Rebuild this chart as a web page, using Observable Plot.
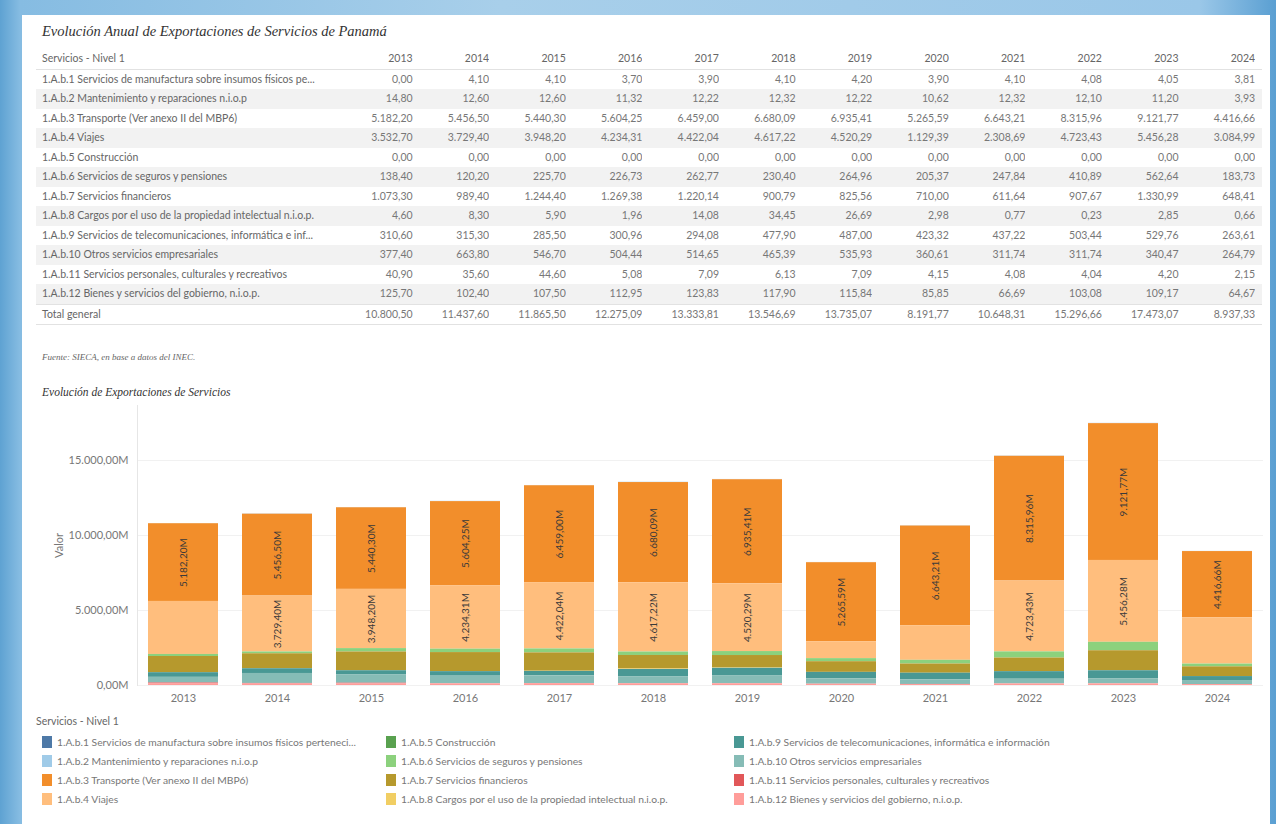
<!DOCTYPE html>
<html><head><meta charset="utf-8">
<script src="https://cdn.jsdelivr.net/npm/d3@7"></script>
<script src="https://cdn.jsdelivr.net/npm/@observablehq/plot@0.6"></script>
<style>
html,body{margin:0;padding:0;width:1276px;height:824px;overflow:hidden;}
body{position:relative;background:linear-gradient(90deg,#5ea2d2 0,#86bce2 20px,#a8cfea 500px,#9ac7e8 1200px,#5a9fd2 1276px);font-family:Lato,"Noto Sans",sans-serif;}
#panel{position:absolute;left:22px;top:15px;width:1248px;height:809px;background:#fff;}
.ttl{position:absolute;font-family:"Liberation Serif","DejaVu Serif",serif;font-style:italic;color:#333;white-space:nowrap;}
#tbl{position:absolute;left:36px;top:49px;border-collapse:collapse;table-layout:fixed;font-size:10.5px;color:#777;}
#tbl td{height:19.5px;padding:0;white-space:nowrap;overflow:hidden;line-height:19.5px;}
#tbl td.lab{padding-left:6px;color:#666;}
#tbl td.num{text-align:right;}
#tbl tr.band td{background:#f2f2f2;}
#tbl tr.head td{border-bottom:1px solid #e2e2e2;color:#666;}
#tbl tr.tot td{border-top:1px solid #e2e2e2;border-bottom:1px solid #e2e2e2;}
#chart{position:absolute;left:0;top:405px;}
#legtitle{position:absolute;left:36px;top:715px;font-size:10.5px;color:#666;}
.leg{position:absolute;font-size:10.3px;color:#777;white-space:nowrap;display:flex;align-items:center;height:19px;}
.leg span.sw{display:inline-block;width:10px;height:12px;margin-right:5px;}
</style>
</head><body>
<div id="panel"></div>
<div class="ttl" id="t1" style="left:42px;top:23px;font-size:14.5px;">Evolución Anual de Exportaciones de Servicios de Panamá</div>
<table id="tbl"></table>
<div class="ttl" style="left:42px;top:352px;font-size:9px;color:#666;">Fuente: SIECA, en base a datos del INEC.</div>
<div class="ttl" style="left:42px;top:386px;font-size:11.5px;">Evolución de Exportaciones de Servicios</div>
<div id="chart"></div>
<div id="legtitle">Servicios - Nivel 1</div>
<div id="legend"></div>
<script>
const years = ["2013","2014","2015","2016","2017","2018","2019","2020","2021","2022","2023","2024"];
const categories = [
  "1.A.b.1 Servicios de manufactura sobre insumos físicos pertenecientes a otros",
  "1.A.b.2 Mantenimiento y reparaciones n.i.o.p",
  "1.A.b.3 Transporte (Ver anexo II del MBP6)",
  "1.A.b.4 Viajes",
  "1.A.b.5 Construcción",
  "1.A.b.6 Servicios de seguros y pensiones",
  "1.A.b.7 Servicios financieros",
  "1.A.b.8 Cargos por el uso de la propiedad intelectual n.i.o.p.",
  "1.A.b.9 Servicios de telecomunicaciones, informática e información",
  "1.A.b.10 Otros servicios empresariales",
  "1.A.b.11 Servicios personales, culturales y recreativos",
  "1.A.b.12 Bienes y servicios del gobierno, n.i.o.p."
];
const tableLabels = [
  "1.A.b.1 Servicios de manufactura sobre insumos físicos pe...",
  "1.A.b.2 Mantenimiento y reparaciones n.i.o.p",
  "1.A.b.3 Transporte (Ver anexo II del MBP6)",
  "1.A.b.4 Viajes",
  "1.A.b.5 Construcción",
  "1.A.b.6 Servicios de seguros y pensiones",
  "1.A.b.7 Servicios financieros",
  "1.A.b.8 Cargos por el uso de la propiedad intelectual n.i.o.p.",
  "1.A.b.9 Servicios de telecomunicaciones, informática e inf...",
  "1.A.b.10 Otros servicios empresariales",
  "1.A.b.11 Servicios personales, culturales y recreativos",
  "1.A.b.12 Bienes y servicios del gobierno, n.i.o.p."
];
const legendLabels = [
  "1.A.b.1 Servicios de manufactura sobre insumos físicos perteneci...",
  "1.A.b.2 Mantenimiento y reparaciones n.i.o.p",
  "1.A.b.3 Transporte (Ver anexo II del MBP6)",
  "1.A.b.4 Viajes",
  "1.A.b.5 Construcción",
  "1.A.b.6 Servicios de seguros y pensiones",
  "1.A.b.7 Servicios financieros",
  "1.A.b.8 Cargos por el uso de la propiedad intelectual n.i.o.p.",
  "1.A.b.9 Servicios de telecomunicaciones, informática e información",
  "1.A.b.10 Otros servicios empresariales",
  "1.A.b.11 Servicios personales, culturales y recreativos",
  "1.A.b.12 Bienes y servicios del gobierno, n.i.o.p."
];
const colors = ["#4e79a7","#a0cbe8","#f28e2b","#ffbe7d","#59a14f","#8cd17d","#b6992d","#f1ce63","#499894","#86bcb6","#e15759","#ff9d9a"];

const s1  = [0.00, 4.10, 4.10, 3.70, 3.90, 4.10, 4.20, 3.90, 4.10, 4.08, 4.05, 3.81];
const s2  = [14.80, 12.60, 12.60, 11.32, 12.22, 12.32, 12.22, 10.62, 12.32, 12.10, 11.20, 3.93];
const s3  = [5182.20, 5456.50, 5440.30, 5604.25, 6459.00, 6680.09, 6935.41, 5265.59, 6643.21, 8315.96, 9121.77, 4416.66];
const s4  = [3532.70, 3729.40, 3948.20, 4234.31, 4422.04, 4617.22, 4520.29, 1129.39, 2308.69, 4723.43, 5456.28, 3084.99];
const s5  = [0, 0, 0, 0, 0, 0, 0, 0, 0, 0, 0, 0];
const s6  = [138.40, 120.20, 225.70, 226.73, 262.77, 230.40, 264.96, 205.37, 247.84, 410.89, 562.64, 183.73];
const s7  = [1073.30, 989.40, 1244.40, 1269.38, 1220.14, 900.79, 825.56, 710.00, 611.64, 907.67, 1330.99, 648.41];
const s8  = [4.60, 8.30, 5.90, 1.96, 14.08, 34.45, 26.69, 2.98, 0.77, 0.23, 2.85, 0.66];
const s9  = [310.60, 315.30, 285.50, 300.96, 294.08, 477.90, 487.00, 423.32, 437.22, 503.44, 529.76, 263.61];
const s10 = [377.40, 663.80, 546.70, 504.44, 514.65, 465.39, 535.93, 360.61, 311.74, 311.74, 340.47, 264.79];
const s11 = [40.90, 35.60, 44.60, 5.08, 7.09, 6.13, 7.09, 4.15, 4.08, 4.04, 4.20, 2.15];
const s12 = [125.70, 102.40, 107.50, 112.95, 123.83, 117.90, 115.84, 85.85, 66.69, 103.08, 109.17, 64.67];
const totals = [10800.50, 11437.60, 11865.50, 12275.09, 13333.81, 13546.69, 13735.07, 8191.77, 10648.31, 15296.66, 17473.07, 8937.33];
const viajesLabelYears = ["2014","2015","2016","2017","2018","2019","2022","2023"];
const yTicks = [0, 5000, 10000, 15000];

const series = [s1,s2,s3,s4,s5,s6,s7,s8,s9,s10,s11,s12];
const locale = d3.formatLocale({decimal: ",", thousands: ".", grouping: [3], currency: ["", ""]});
const fmt2 = locale.format(",.2f");
const fmtM = v => fmt2(v) + "M";

// table
const tbl = document.getElementById("tbl");
const cg = document.createElement("colgroup");
cg.innerHTML = `<col style="width:300px">` + years.map(() => `<col style="width:76.6px">`).join("") + `<col style="width:7px">`;
tbl.appendChild(cg);
function addRow(cls, label, vals) {
  const tr = document.createElement("tr");
  if (cls) tr.className = cls;
  tr.innerHTML = `<td class="lab">${label}</td>` + vals.map(v => `<td class="num">${v}</td>`).join("") + `<td></td>`;
  tbl.appendChild(tr);
}
addRow("head", "Servicios - Nivel 1", years);
series.forEach((s, i) => addRow(i % 2 === 1 ? "band" : "", tableLabels[i], s.map(fmt2)));
addRow("tot", "Total general", totals.map(fmt2));

// chart data
const data = [];
series.forEach((s, i) => s.forEach((v, j) => data.push({
  year: years[j], cat: categories[i], value: v,
  show: i === 2 || (i === 3 && viajesLabelYears.includes(years[j]))
})));
const stackOrder = categories.slice().reverse();

const chart = Plot.plot({
  width: 1276, height: 310,
  marginLeft: 137, marginRight: 13, marginTop: 0, marginBottom: 30,
  style: {background: "transparent", color: "#777", fontFamily: "Lato, 'Noto Sans', sans-serif", fontSize: "11px"},
  x: {domain: years, paddingInner: 0.256, paddingOuter: 0.106, label: null, tickSize: 0, tickPadding: 9},
  y: {domain: [0, 18667], ticks: yTicks, tickFormat: fmtM, tickSize: 0, tickPadding: 9, grid: true,
      label: "Valor", labelAnchor: "center", labelOffset: 82, labelArrow: false},
  color: {domain: categories, range: colors},
  marks: [
    Plot.frame({anchor: "left", stroke: "#e6e6e6"}),
    Plot.barY(data, {x: "year", y: "value", fill: "cat", order: stackOrder}),
    Plot.text(data, Plot.stackY({x: "year", y: "value", z: "cat", order: stackOrder,
      text: d => d.show ? fmtM(d.value) : "", rotate: -90, fill: "#3a3a3a", fontSize: 10}))
  ]
});
document.getElementById("chart").appendChild(chart);

// legend
const leg = document.getElementById("legend");
const colX = [42, 386, 734];
categories.forEach((c, i) => {
  const d = document.createElement("div");
  d.className = "leg";
  d.style.left = colX[Math.floor(i / 4)] + "px";
  d.style.top = (732 + (i % 4) * 19) + "px";
  d.innerHTML = `<span class="sw" style="background:${colors[i]}"></span>${legendLabels[i]}`;
  leg.appendChild(d);
});
</script>
</body></html>
